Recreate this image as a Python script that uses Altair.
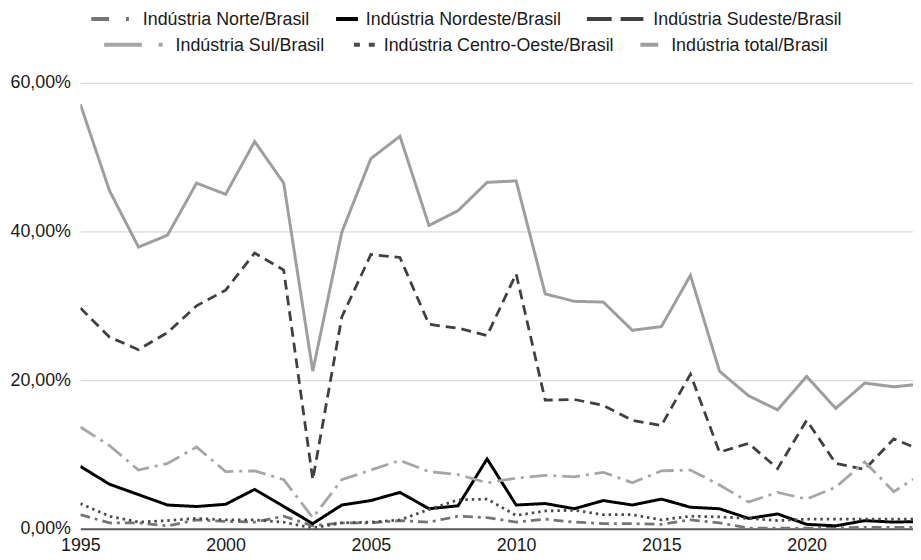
import altair as alt
import pandas as pd

years = list(range(1995, 2025))

norte = [1.9, 0.8, 0.8, 0.4, 1.2, 1.0, 0.9, 1.7, 0.4, 0.8, 0.8, 1.1, 0.9, 1.7, 1.5, 0.9,
         1.3, 0.9, 0.7, 0.7, 0.6, 1.2, 0.8, 0.1, 0.1, 0.1, 0.1, 0.2, 0.2, 0.2]
nordeste = [8.4, 6.0, 4.6, 3.2, 3.0, 3.3, 5.3, 3.0, 0.7, 3.2, 3.8, 4.9, 2.7, 3.1, 9.4, 3.2,
            3.4, 2.7, 3.8, 3.2, 4.0, 2.9, 2.7, 1.4, 2.0, 0.6, 0.4, 1.1, 0.9, 1.0]
sudeste = [29.7, 25.8, 24.1, 26.4, 30.0, 32.1, 37.1, 34.8, 6.6, 28.5, 36.9, 36.5, 27.5, 27.0, 26.0, 34.3,
           17.3, 17.4, 16.6, 14.6, 13.9, 20.8, 10.3, 11.5, 8.1, 14.6, 8.8, 8.0, 12.1, 10.5]
sul = [13.7, 11.2, 7.9, 8.8, 11.0, 7.7, 7.8, 6.6, 1.5, 6.6, 7.9, 9.2, 7.7, 7.3, 6.2, 6.8,
       7.2, 7.0, 7.6, 6.2, 7.8, 7.9, 5.9, 3.6, 4.9, 4.0, 5.6, 9.0, 5.0, 7.5]
centro_oeste = [3.4, 1.7, 0.9, 1.1, 1.4, 1.2, 1.2, 0.9, 0.1, 0.8, 0.9, 1.2, 2.6, 3.9, 4.0, 1.8,
                2.4, 2.5, 1.9, 1.9, 1.2, 1.7, 1.6, 1.4, 1.1, 1.3, 1.3, 1.3, 1.3, 1.3]
total = [57.1, 45.5, 37.9, 39.5, 46.5, 45.0, 52.1, 46.5, 21.2, 39.9, 49.8, 52.8, 40.8, 42.8, 46.6, 46.8,
         31.6, 30.6, 30.5, 26.7, 27.2, 34.1, 21.2, 17.9, 16.0, 20.5, 16.2, 19.6, 19.1, 19.5]

series_names = ["Indústria Norte/Brasil", "Indústria Nordeste/Brasil", "Indústria Sudeste/Brasil",
                "Indústria Sul/Brasil", "Indústria Centro-Oeste/Brasil", "Indústria total/Brasil"]
series_values = [norte, nordeste, sudeste, sul, centro_oeste, total]
series_colors = ["#757575", "#000000", "#404040", "#a6a6a6", "#4a4a4a", "#9e9e9e"]
series_dashes = [[10, 5, 3, 5], [1, 0], [10, 6], [18, 6, 3, 6], [2.5, 4], [1, 0]]
series_widths = [2.8, 3, 2.8, 2.8, 2.8, 3]
y_ticks = [0, 20, 40, 60]
x_ticks = [1995, 2000, 2005, 2010, 2015, 2020]

FONT = "Liberation Sans"

x_enc = alt.X("ano:Q",
              scale=alt.Scale(domain=[1995, 2023.66], nice=False, zero=False),
              axis=alt.Axis(values=x_ticks, format="d", title=None, grid=False, ticks=False,
                            labelFlush=False, labelOverlap=False, labelPadding=8,
                            labelFontSize=18, labelColor="#1a1a1a", labelFont=FONT,
                            domainColor="#595959", domainWidth=2))
y_enc = alt.Y("valor:Q",
              scale=alt.Scale(domain=[0, 60], nice=False),
              axis=alt.Axis(values=y_ticks, title=None, grid=True, gridColor="#d0d0d0",
                            gridWidth=1, ticks=False, domain=False, labelPadding=10,
                            labelFontSize=18, labelColor="#1a1a1a", labelFont=FONT,
                            labelExpr="replace(format(datum.value, '.2f'), '.', ',') + '%'"))

layers = []
for name, vals, col, dash, w in zip(series_names, series_values, series_colors, series_dashes, series_widths):
    df = pd.DataFrame({"ano": years, "valor": vals, "serie": name})
    layers.append(
        alt.Chart(df).mark_line(color=col, strokeDash=dash, strokeWidth=w, clip=True,
                                strokeCap="butt", strokeJoin="miter")
        .encode(x=x_enc, y=y_enc)
    )

# legend (drawn manually to mimic the centred two-row layout)
legend_items = [
    (series_names[0], 92 - 81, 130 - 81, 144 - 81, 16.7 - 81, [18, 17, 3, 100], series_colors[0]),
    (series_names[1], 339 - 81, 361 - 81, 369 - 81, 16.7 - 81, [1, 0], series_colors[1]),
    (series_names[2], 592 - 81, 649 - 81, 659 - 81, 16.7 - 81, [25, 9], series_colors[2]),
    (series_names[3], 105 - 81, 164 - 81, 177 - 81, 42.7 - 81, [38, 17, 4, 100], series_colors[3]),
    (series_names[4], 357 - 81, 378 - 81, 387 - 81, 42.7 - 81, [6, 9], series_colors[4]),
    (series_names[5], 646 - 81, 664 - 81, 677 - 81, 42.7 - 81, [1, 0], series_colors[5]),
]
base = alt.Chart(pd.DataFrame({"a": [0]}))
for name, x1, x2, tx, yy, dash, col in legend_items:
    layers.append(base.mark_rule(color=col, strokeWidth=4, strokeDash=dash, strokeCap="butt")
                  .encode(x=alt.value(x1), x2=alt.value(x2), y=alt.value(yy)))
    layers.append(base.mark_text(align="left", baseline="middle", fontSize=18, font=FONT,
                                 color="#1a1a1a")
                  .encode(x=alt.value(tx), y=alt.value(yy + 1), text=alt.value(name)))

chart = alt.layer(*layers).properties(
    width=840, height=450,
    autosize=alt.AutoSizeParams(type="none"),
    padding={"left": 73, "top": 73, "right": 0, "bottom": 24},
    background="white",
).configure_view(strokeWidth=0)

chart.save("out.html", embed_options={"renderer": "svg", "actions": False})
